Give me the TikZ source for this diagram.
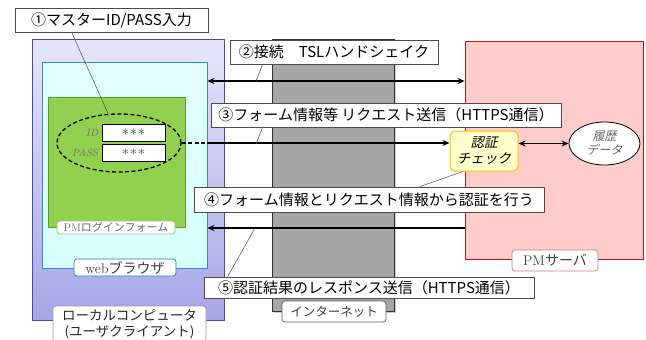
\documentclass[tikz,border=0pt]{standalone}
\usepackage{fontspec}
\newfontfamily\cjk{Noto Sans CJK JP}
\newfontfamily\cjkit[FakeSlant=0.2]{Noto Sans CJK JP}
\usetikzlibrary{arrows.meta,shapes.geometric,shadows,calc}
\definecolor{pcborder}{HTML}{4B4BA0}
\definecolor{pctop}{HTML}{E6E6FA}
\definecolor{pcbot}{HTML}{A6A6E6}
\definecolor{webborder}{HTML}{2E8BD8}
\definecolor{webfill}{HTML}{D8FFFF}
\definecolor{formfill}{HTML}{92D050}
\definecolor{formborder}{HTML}{5C9B2E}
\definecolor{netfill}{HTML}{A6A6A6}
\definecolor{netborder}{HTML}{333333}
\definecolor{srvfill}{HTML}{FFCCCC}
\definecolor{srvborder}{HTML}{CC1111}
\definecolor{authfill}{HTML}{FFFFCC}
\definecolor{authborder}{HTML}{FFC000}
\tikzset{
  area/.style={draw, line width=0.9pt, inner sep=0pt},
  numlabel/.style={draw=gray!60!black, fill=white, line width=0.7pt, inner sep=0pt,
    font=\cjk\fontsize{15}{17}\selectfont},
  partlabel/.style={draw, fill=white, rounded corners=3pt, line width=0.7pt, inner sep=0pt,
    font=\cjk\fontsize{13.5}{15}\selectfont, text=black!75},
  field/.style={draw=black, fill=white, line width=1pt, inner sep=0pt, text=black!75,
    font=\fontsize{15}{15}\selectfont},
  leader/.style={draw=gray!60!black, line width=0.5pt},
  conn/.style={draw=black, line width=1.3pt},
  tip/.style={-{Stealth[length=7pt,width=6pt]}},
  tips/.style={{Stealth[length=7pt,width=6pt]}-{Stealth[length=7pt,width=6pt]}},
}
\begin{document}
\begin{tikzpicture}[x=1pt,y=-1pt]
\useasboundingbox (0,0) rectangle (646,340);

% local computer
\node[area, draw=pcborder, top color=pctop, bottom color=pcbot,
  minimum width=192, minimum height=281] (pc) at (128,179.5) {};
% web browser
\node[area, draw=webborder, top color=webfill!75!white, bottom color=webfill,
  minimum width=165, minimum height=206] (web) at (124.5,165) {};
% login form
\node[area, draw=formborder, fill=formfill, line width=0.7pt,
  minimum width=137, minimum height=130] (form) at (116.5,162) {};
% ellipse
\node[ellipse, draw=black, dashed, line width=1.3pt, dash pattern=on 4pt off 2.5pt,
  minimum width=124, minimum height=58, inner sep=0pt] (ell) at (119,143) {};
\node[field, minimum width=63, minimum height=17] (idf) at (133.5,132.5) {$\ast\!\ast\!\ast$};
\node[field, minimum width=63, minimum height=17] (pwf) at (133.5,152.5) {$\ast\!\ast\!\ast$};
\node[text=black!55, font=\itshape\fontsize{10.5}{11}\selectfont, anchor=east] (idl) at (idf.west) {ID\hspace{8pt}};
\node[text=black!55, font=\itshape\fontsize{10.5}{11}\selectfont, anchor=east] (pwl) at (pwf.west) {PASS\hspace{4pt}};

% internet
\node[area, draw=netborder, fill=netfill, line width=1pt,
  drop shadow={shadow xshift=1.5pt, shadow yshift=-1.5pt, opacity=0.4},
  minimum width=122, minimum height=272] (net) at (333,175) {};

% server
\node[area, draw=srvborder, fill=srvfill,
  minimum width=178, minimum height=218] (srv) at (554,150) {};

% auth check
\node[draw=authborder, fill=authfill, rounded corners=5pt, line width=1pt,
  minimum width=68, minimum height=40, inner sep=0pt, align=center,
  font=\cjkit\fontsize{13.5}{16}\selectfont] (auth) at (484,151) {認証\\チェック};
% history
\node[ellipse, draw=black, fill=white, line width=0.8pt, minimum width=71, minimum height=43,
  inner sep=0pt, align=center, text=black!60,
  font=\cjkit\fontsize{12}{14}\selectfont] (hist) at (604.5,143.5) {履歴\\データ};

% connectors
\coordinate (y2) at (0,81);
\coordinate (y5) at (0,228);
\draw[conn, tips] (web.east |- y2) -- (srv.west |- y2);
\draw[conn, dashed, dash pattern=on 4pt off 2.5pt] (ell.east) -- (web.east |- ell.east);
\draw[conn, tip] (web.east |- ell.east) -- (auth.west |- ell.east);
\draw[conn, tips] (auth.east |- hist.west) -- (hist.west);
\draw[conn, tip] (srv.west |- y5) -- (web.east |- y5);

% numbered labels
\node[numlabel, minimum width=193, minimum height=24] (l1) at (111.5,20) {①マスターID/PASS入力};
\node[numlabel, minimum width=208, minimum height=24] (l2) at (334,52) {②接続　TSLハンドシェイク};
\node[numlabel, minimum width=350, minimum height=24] (l3) at (386,115) {③フォーム情報等 リクエスト送信（HTTPS通信）};
\node[numlabel, minimum width=350, minimum height=25] (l4) at (369,199.5) {④フォーム情報とリクエスト情報から認証を行う};
\node[numlabel, minimum width=330, minimum height=21] (l5) at (369,287.5) {⑤認証結果のレスポンス送信（HTTPS通信）};

% leaders
\coordinate (p2) at (256,81);
\coordinate (p3) at (256,144);
\coordinate (p5) at (255,228);
\draw[leader] ([xshift=57pt]l1.south west) -- ([xshift=-11pt]ell.north);
\draw[leader] ([xshift=33pt]l2.south west) -- (p2);
\draw[leader] ([xshift=52pt]l3.south west) -- (p3);
\draw[leader] ([xshift=226pt]l4.north west) -- ([xshift=-21pt]auth.south);
\draw[leader] ([xshift=24pt]l5.north west) -- (p5);

% part labels
\node[partlabel, draw=pcborder!60, minimum width=153, minimum height=36, align=center, text=black!85,
  font=\cjk\fontsize{13.5}{16}\selectfont] (pcl) at (129.5,324) {ローカルコンピュータ\\(ユーザクライアント)};
\node[partlabel, draw=webborder!50!teal, minimum width=102, minimum height=17] (webl) at (125,267.5)
  {\rmfamily\fontsize{14}{14}\selectfont web\cjk ブラウザ};
\node[partlabel, draw=formborder!60, minimum width=118, minimum height=13, text=black!60] (forml) at (116,227.5)
  {\rmfamily\fontsize{11}{11}\selectfont PM\cjk ログインフォーム};
\node[partlabel, draw=netborder!80, minimum width=104, minimum height=21] (netl) at (334,311.5)
  {\fontsize{12.5}{13}\selectfont インターネット};
\node[partlabel, draw=srvborder!60, minimum width=86, minimum height=21] (srvl) at (555,260.5)
  {\rmfamily\fontsize{14}{14}\selectfont PM\cjk サーバ};
\end{tikzpicture}
\end{document}
